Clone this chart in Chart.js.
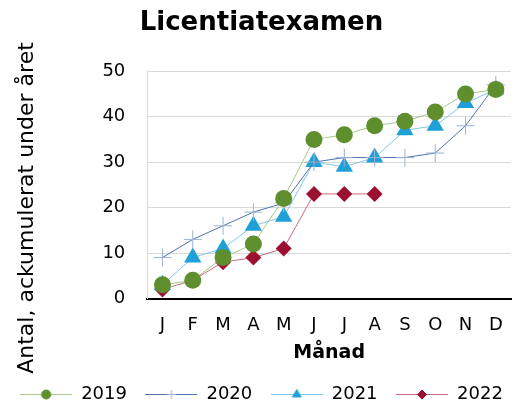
<!DOCTYPE html>
<html>
<head>
<meta charset="utf-8">
<script src="https://cdn.jsdelivr.net/npm/chart.js@4"></script>
<style>
  html, body { margin: 0; padding: 0; background: #fff; }
  #wrap { width: 521px; height: 405px; }
</style>
</head>
<body>
<div id="wrap"><canvas id="chart" width="521" height="405"></canvas></div>
<script>
const months = ["J", "F", "M", "A", "M", "J", "J", "A", "S", "O", "N", "D"];
const y2019 = [3, 4, 9, 12, 22, 35, 36, 38, 39, 41, 45, 46];
const y2020 = [9, 13, 16, 19, 21, 30, 31, 31, 31, 32, 38, 47];
const y2021 = [3, 9, 11, 16, 18, 30, 29, 31, 37, 38, 43, 46];
const y2022 = [2, 4, 8, 9, 11, 23, 23, 23];

const FONT = "'DejaVu Sans', Verdana, sans-serif";
const Y_TITLE = "Antal, ackumulerat under året";
const Y_TITLE_SIZE = 22;
const Y_TITLE_PAD = { top: 14, bottom: 40 };

function series(label, data, lineColor, markColor, style, radius) {
  return {
    label,
    data,
    borderColor: lineColor,
    borderWidth: 1,
    pointStyle: style,
    pointRadius: radius,
    pointHoverRadius: radius,
    pointBackgroundColor: markColor,
    pointBorderColor: markColor,
    pointBorderWidth: style === "cross" ? 1 : 0,
    tension: 0,
    fill: false,
  };
}

const datasets = [
  series("2019", y2019, "#a8c98a", "#5f8f2d", "circle", 8.5),
  series("2020", y2020, "#4f72a8", "#9cb2d4", "cross", 9),
  series("2021", y2021, "#80c8ea", "#20a0d8", "triangle", 10),
  series("2022", y2022, "#c9697f", "#9c1131", "rectRot", 8),
];

// legend symbol: short line with the marker in the middle
const icons = datasets.map((d) => {
  const c = document.createElement("canvas");
  c.width = 52;
  c.height = 14;
  const ctx = c.getContext("2d");
  ctx.strokeStyle = d.borderColor;
  ctx.lineWidth = 1;
  ctx.beginPath();
  ctx.moveTo(0, 7.5);
  ctx.lineTo(52, 7.5);
  ctx.stroke();
  ctx.fillStyle = d.pointBackgroundColor;
  ctx.strokeStyle = d.pointBorderColor;
  Chart.helpers.drawPoint(ctx, {
    pointStyle: d.pointStyle,
    radius: d.pointStyle === "triangle" ? 5 : 4.5,
    borderWidth: 1,
  }, 26, 7.5);
  return c;
});

// the y title sits lower than the axis middle in the original, so draw it by hand
const yTitlePlugin = {
  id: "yTitle",
  afterDraw(chart) {
    const { ctx } = chart;
    const y = chart.scales.y;
    const lh = Y_TITLE_SIZE * 1.2;
    ctx.save();
    ctx.translate(y.left + Y_TITLE_PAD.top + lh / 2, 208);
    ctx.rotate(-Math.PI / 2);
    ctx.font = `${Y_TITLE_SIZE}px ${FONT}`;
    ctx.fillStyle = "#000";
    ctx.textAlign = "center";
    ctx.textBaseline = "middle";
    ctx.fillText(Y_TITLE, 0, 0);
    ctx.restore();
  },
};

new Chart(document.getElementById("chart"), {
  type: "line",
  data: { labels: months, datasets },
  plugins: [yTitlePlugin],
  options: {
    responsive: false,
    animation: false,
    layout: { padding: { left: 0, right: -2, top: 2, bottom: -8 } },
    plugins: {
      title: {
        display: true,
        text: "Licentiatexamen",
        color: "#000",
        font: { family: FONT, size: 26, weight: "bold" },
        padding: { top: 6, bottom: 32 },
      },
      legend: {
        position: "bottom",
        labels: {
          usePointStyle: true,
          pointStyleWidth: 52,
          color: "#000",
          font: { family: FONT, size: 18 },
          padding: 18.5,
          generateLabels: (chart) =>
            chart.data.datasets.map((d, i) => ({
              text: d.label,
              pointStyle: icons[i],
              fillStyle: d.pointBackgroundColor,
              strokeStyle: d.borderColor,
              lineWidth: 0,
              fontColor: "#000",
              datasetIndex: i,
              hidden: false,
            })),
        },
      },
      tooltip: { enabled: false },
    },
    scales: {
      x: {
        offset: true,
        grid: { display: false, drawTicks: false },
        border: { color: "#000", width: 2 },
        ticks: { color: "#000", font: { family: FONT, size: 18 }, padding: 16.5 },
        title: {
          display: true,
          text: "Månad",
          color: "#000",
          font: { family: FONT, size: 19, weight: "bold" },
          padding: { top: -11.4, bottom: 2 },
        },
      },
      y: {
        min: 0,
        max: 50,
        ticks: { stepSize: 10, color: "#000", font: { family: FONT, size: 18 }, padding: 22 },
        grid: { color: "#d9d9d9", drawTicks: false },
        border: { color: "#d9d9d9", width: 1 },
        title: {
          display: true,
          text: Y_TITLE,
          color: "rgba(0,0,0,0)",
          font: { family: FONT, size: Y_TITLE_SIZE },
          padding: Y_TITLE_PAD,
        },
      },
    },
  },
});
</script>
</body>
</html>
